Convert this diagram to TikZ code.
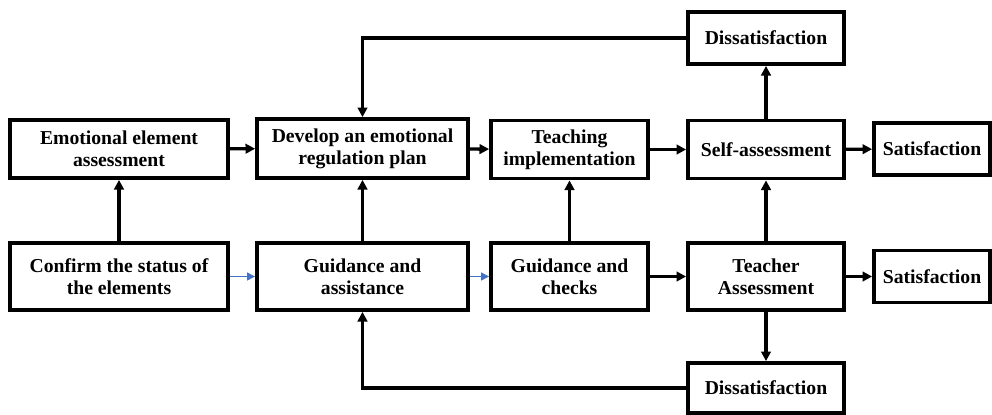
\documentclass[tikz,border=0pt]{standalone}
\usepackage{fontspec}
\setmainfont{Liberation Serif}
\usepackage{xcolor}
\usepackage{tikz}
\usetikzlibrary{arrows.meta,positioning}
\definecolor{linkblue}{RGB}{68,114,196}

\begin{document}
\begin{tikzpicture}
  [
    box/.style={rectangle,draw=black,line width=2.7pt,inner sep=0pt,align=center,font=\bfseries\fontsize{14}{15.8}\selectfont},
    flow/.style={line width=2.4pt,-{Triangle[length=2.4mm,width=2.4mm]}},
    thinflow/.style={draw=linkblue,line width=0.6pt,-{Triangle[length=2mm,width=2mm]}}
  ]
  \useasboundingbox (0,0) rectangle (24.8,10.35);
  \node[box,minimum width=5.45cm,minimum height=1.45cm] at (2.975,6.625) (element assessment) {Emotional element\\assessment};
  \node[box,minimum width=5.45cm,minimum height=1.675cm] at (2.975,3.4375) (confirm status) {Confirm the status of\\the elements};
  \node[box,minimum width=5.275cm,minimum height=1.475cm] at (9.0625,6.6375) (regulation plan) {Develop an emotional\\regulation plan};
  \node[box,minimum width=5.275cm,minimum height=1.675cm] at (9.0625,3.4375) (guidance assistance) {Guidance and\\assistance};
  \node[box,minimum width=3.925cm,minimum height=1.45cm] at (14.2375,6.6125) (teaching) {Teaching\\implementation};
  \node[box,minimum width=3.925cm,minimum height=1.675cm] at (14.2375,3.4375) (guidance checks) {Guidance and\\checks};
  \node[box,minimum width=3.9cm,minimum height=1.45cm] at (19.15,6.6125) (self assessment) {Self-assessment};
  \node[box,minimum width=3.9cm,minimum height=1.675cm] at (19.15,3.4375) (teacher assessment) {Teacher\\Assessment};
  \node[box,minimum width=3.9cm,minimum height=1.3cm] at (19.15,9.4) (dissatisfaction 1) {Dissatisfaction};
  \node[box,minimum width=3.9cm,minimum height=1.25cm] at (19.15,0.65) (dissatisfaction 2) {Dissatisfaction};
  \node[box,minimum width=2.9cm,minimum height=1.3cm] at (23.3,6.625) (satisfaction 1) {Satisfaction};
  \node[box,minimum width=2.9cm,minimum height=1.3cm] at (23.3,3.4375) (satisfaction 2) {Satisfaction};

  \draw[flow] (confirm status) -- (element assessment);
  \draw[flow] (element assessment) -- (regulation plan);
  \draw[flow] (guidance assistance) -- (regulation plan);
  \draw[flow] (regulation plan) -- (teaching);
  \draw[flow] (guidance checks) -- (teaching);
  \draw[flow] (teaching) -- (self assessment);
  \draw[flow] (self assessment) -- (satisfaction 1);
  \draw[flow] (self assessment) -- (dissatisfaction 1);
  \draw[flow] (teacher assessment) -- (self assessment);
  \draw[flow] (guidance checks) -- (teacher assessment);
  \draw[flow] (teacher assessment) -- (satisfaction 2);
  \draw[flow] (teacher assessment) -- (dissatisfaction 2);
  \draw[flow] (dissatisfaction 1.west) -| (regulation plan.north);
  \draw[flow] (dissatisfaction 2.west) -| (guidance assistance.south);
  \draw[thinflow] (confirm status) -- (guidance assistance);
  \draw[thinflow] (guidance assistance) -- (guidance checks);
\end{tikzpicture}
\end{document}
